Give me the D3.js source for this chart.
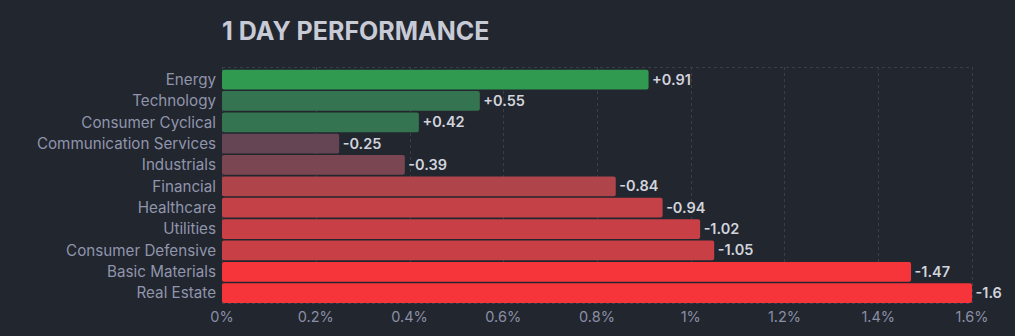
<!DOCTYPE html>
<html><head><meta charset="utf-8">
<script src="https://cdn.jsdelivr.net/npm/d3@7"></script>
<style>
html,body{margin:0;padding:0;background:#22262f;}
svg{display:block;font-family:Inter,"Noto Sans",sans-serif;}
</style></head>
<body>
<svg id="c" width="1015" height="336"></svg>
<script>
const categories = ["Energy","Technology","Consumer Cyclical","Communication Services","Industrials","Financial","Healthcare","Utilities","Consumer Defensive","Basic Materials","Real Estate"];
const values = [0.91,0.55,0.42,-0.25,-0.39,-0.84,-0.94,-1.02,-1.05,-1.47,-1.6];
const barColors = ["#2f9a50","#357450","#357450","#654553","#7a4652","#b0444b","#c34147","#c84045","#c84045","#f6353a","#f6353a"];
const xTicks = [0,0.2,0.4,0.6,0.8,1,1.2,1.4,1.6];
const tickLabels = ["0%","0.2%","0.4%","0.6%","0.8%","1%","1.2%","1.4%","1.6%"];

(function(){
const svg = d3.select("#c");
const pL = 222, pR = 972, pT = 67, pB = 303;
const x = d3.scaleLinear().domain([0,1.6]).range([pL,pR]);
const y = d3.scaleBand().domain(categories).range([69.7,303]).paddingInner(0.075).paddingOuter(0);

svg.append("text").attr("x",222).attr("y",40).text("1 DAY PERFORMANCE")
  .attr("fill","#c8cad6").attr("font-size",25).attr("font-weight",700);

const g = svg.append("g");
g.selectAll("line.v").data(xTicks).join("line")
  .attr("x1",d=>Math.round(x(d))+0.5).attr("x2",d=>Math.round(x(d))+0.5)
  .attr("y1",pT).attr("y2",pB)
  .attr("stroke","#3a3e4a").attr("stroke-dasharray","3,3");
[pT,pB].forEach(yy=>g.append("line").attr("x1",pL).attr("x2",pR)
  .attr("y1",yy+0.5).attr("y2",yy+0.5).attr("stroke","#3a3e4a").attr("stroke-dasharray","3,3"));

svg.append("g").selectAll("rect").data(values).join("rect")
  .attr("x",x(0)).attr("y",(d,i)=>y(categories[i]))
  .attr("width",d=>x(Math.abs(d))-x(0)).attr("height",y.bandwidth())
  .attr("rx",2).attr("fill",(d,i)=>barColors[i]);

svg.append("g").selectAll("text").data(categories).join("text")
  .attr("x",216).attr("y",d=>y(d)+y.bandwidth()/2).attr("dy","0.35em")
  .attr("text-anchor","end").attr("fill","#9095ab").attr("font-size",15.2).text(d=>d);

svg.append("g").selectAll("text").data(values).join("text")
  .attr("x",d=>x(Math.abs(d))+3.5).attr("y",(d,i)=>y(categories[i])+y.bandwidth()/2).attr("dy","0.35em")
  .attr("fill","#d1d4dc").attr("font-size",14.5).attr("font-weight",600)
  .text(d=>(d>0?"+":"")+d);

svg.append("g").selectAll("text").data(xTicks).join("text")
  .attr("x",d=>x(d)).attr("y",316.5).attr("dy","0.35em").attr("text-anchor","middle")
  .attr("fill","#8a8fa5").attr("font-size",14.5).text((d,i)=>tickLabels[i]);
})();
</script>
</body></html>
